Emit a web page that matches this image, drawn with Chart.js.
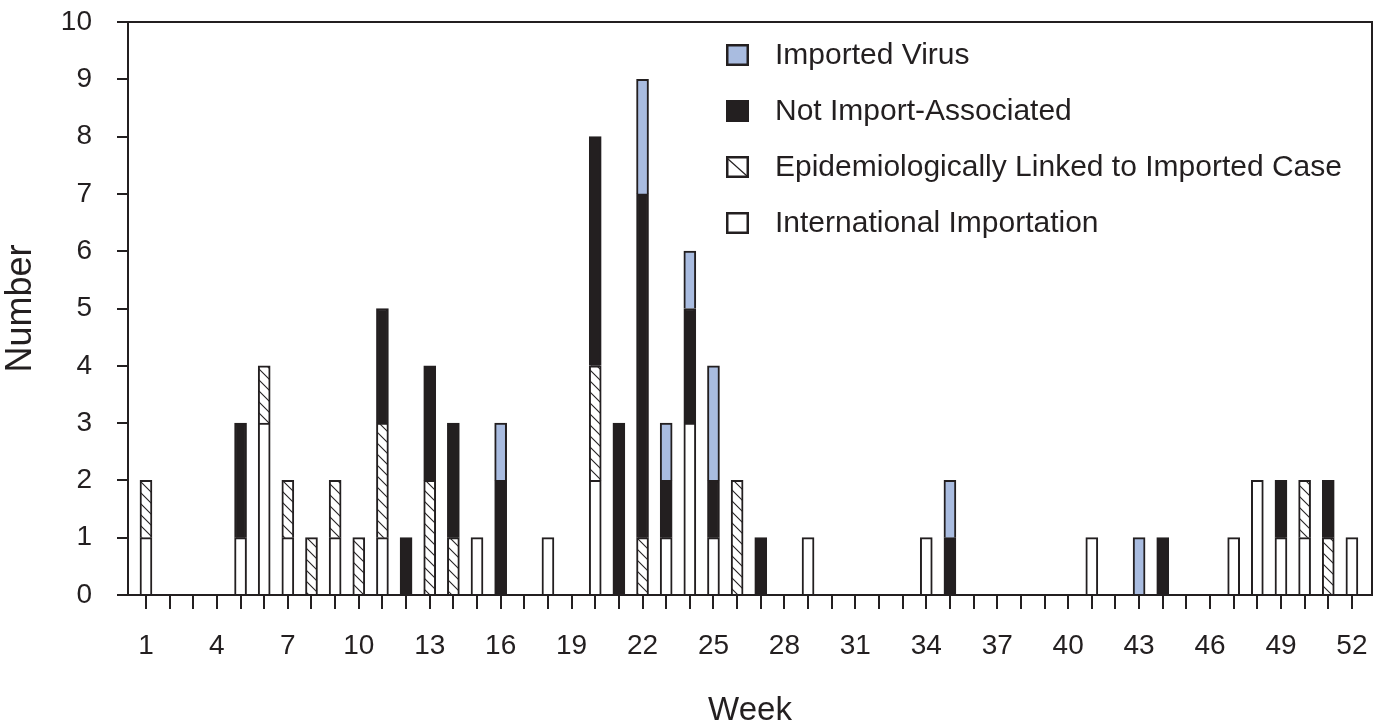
<!DOCTYPE html>
<html>
<head>
<meta charset="utf-8">
<script src="https://cdn.jsdelivr.net/npm/chart.js@4.4.1/dist/chart.umd.min.js"></script>
<style>
	body { margin: 0; background: #fff; }
	#wrap { position: relative; width: 1385px; height: 727px; }
	#legend { position: absolute; left: 726px; top: 0; font-family: "Liberation Sans", Arial, sans-serif; font-size: 30px; color: #231f20; }
	.item { position: absolute; left: 0; white-space: nowrap; height: 30px; line-height: 30px; }
	.item svg { position: absolute; left: 0; top: 5px; }
	.item span { position: absolute; left: 49px; top: 0; }
</style>
</head>
<body>
<div id="wrap">
	<canvas id="chart" width="1385" height="727"></canvas>
	<div id="legend">
		<div class="item" style="top:39px"><svg width="23" height="22"><rect x="1.25" y="1.25" width="20.5" height="19.5" fill="#a9bce0" stroke="#231f20" stroke-width="2.5"/></svg><span>Imported Virus</span></div>
		<div class="item" style="top:95px"><svg width="23" height="22"><rect x="0" y="0" width="23" height="22" fill="#231f20"/></svg><span>Not Import-Associated</span></div>
		<div class="item" style="top:151px"><svg width="23" height="22"><rect x="1.25" y="1.25" width="20.5" height="19.5" fill="#fff" stroke="#231f20" stroke-width="2.5"/><line x1="2" y1="3" x2="21" y2="20" stroke="#231f20" stroke-width="1.2"/></svg><span>Epidemiologically Linked to Imported Case</span></div>
		<div class="item" style="top:207px"><svg width="23" height="22"><rect x="1.25" y="1.25" width="20.5" height="19.5" fill="#fff" stroke="#231f20" stroke-width="2.5"/></svg><span>International Importation</span></div>
	</div>
</div>
<script>
const weeks = [];
for (var w = 1; w <= 52; w++) weeks.push(w);

// cases per week, weeks 1..52
const international = [1,0,0,0,1,3,1,0,1,0, 1,0,0,0,1,0,0,1,0,2, 0,0,1,3,1,0,0,0,1,0, 0,0,0,1,0,0,0,0,0,0, 1,0,0,0,0,0,1,2,1,1, 0,1];
const epiLinked     = [1,0,0,0,0,1,1,1,1,1, 2,0,2,1,0,0,0,0,0,2, 0,1,0,0,0,2,0,0,0,0, 0,0,0,0,0,0,0,0,0,0, 0,0,0,0,0,0,0,0,0,1, 1,0];
const notImport     = [0,0,0,0,2,0,0,0,0,0, 2,1,2,2,0,2,0,0,0,4, 3,6,1,2,1,0,1,0,0,0, 0,0,0,0,1,0,0,0,0,0, 0,0,0,1,0,0,0,0,1,0, 1,0];
const importedVirus = [0,0,0,0,0,0,0,0,0,0, 0,0,0,0,0,1,0,0,0,0, 0,2,1,1,2,0,0,0,0,0, 0,0,0,0,1,0,0,0,0,0, 0,0,1,0,0,0,0,0,0,0, 0,0];

const yTicks = [0,1,2,3,4,5,6,7,8,9,10];
const labelWeeks = [1,4,7,10,13,16,19,22,25,28,31,34,37,40,43,46,49,52];

const ink = '#231f20';
const font = "'Liberation Sans', Arial, sans-serif";

function hatch() {
	var s = 11;
	var c = document.createElement('canvas');
	c.width = s; c.height = s;
	var ctx = c.getContext('2d');
	ctx.fillStyle = '#fff';
	ctx.fillRect(0, 0, s, s);
	ctx.strokeStyle = ink;
	ctx.lineWidth = 1.1;
	[-s, 0, s].forEach(function (o) {
		ctx.beginPath();
		ctx.moveTo(-1, -1 + o);
		ctx.lineTo(s + 1, s + 1 + o);
		ctx.stroke();
	});
	return ctx.createPattern(c, 'repeat');
}

function series(arr) {
	return weeks.map(function (wk, i) { return { x: wk, y: arr[i] || null }; });
}

function ds(label, arr, bg) {
	return {
		label: label,
		data: series(arr),
		backgroundColor: bg,
		borderColor: ink,
		borderWidth: 2,
		barThickness: 12
	};
}

const frame = {
	id: 'frame',
	afterDraw(chart) {
		var a = chart.chartArea, ctx = chart.ctx;
		ctx.save();
		ctx.strokeStyle = ink;
		ctx.lineWidth = 2;
		ctx.beginPath();
		ctx.moveTo(a.left, a.top);
		ctx.lineTo(a.right, a.top);
		ctx.lineTo(a.right, a.bottom);
		ctx.stroke();
		ctx.restore();
	}
};

const chartElem = document.getElementById('chart');
var chart = new Chart(chartElem, {
	type: 'bar',
	data: {
		datasets: [
			ds('International Importation', international, '#ffffff'),
			ds('Epidemiologically Linked to Imported Case', epiLinked, hatch()),
			ds('Not Import-Associated', notImport, ink),
			ds('Imported Virus', importedVirus, '#a9bce0')
		]
	},
	options: {
		responsive: false,
		devicePixelRatio: 1,
		animation: false,
		layout: { padding: { left: 0, top: 22, right: 13, bottom: 0 } },
		plugins: { legend: { display: false }, tooltip: { enabled: false } },
		scales: {
			x: {
				type: 'linear',
				stacked: true,
				offset: false,
				min: 0.24,
				max: 52.85,
				afterBuildTicks: function (axis) {
					axis.ticks = weeks.map(function (v) { return { value: v }; });
				},
				afterFit: function (s) {
					s.height = 132;
					s.paddingLeft = 0;
					s.paddingRight = 0;
				},
				grid: { offset: false, drawOnChartArea: false, color: ink, lineWidth: 2, tickLength: 14 },
				border: { color: ink, width: 2 },
				ticks: {
					autoSkip: false,
					maxRotation: 0,
					padding: 20,
					color: ink,
					font: { family: font, size: 28 },
					callback: function (v) { return labelWeeks.indexOf(v) >= 0 ? String(v) : ''; }
				},
				title: {
					display: true,
					text: 'Week',
					color: ink,
					font: { family: font, size: 33, lineHeight: 1 },
					padding: { top: 0, bottom: 0 }
				}
			},
			y: {
				stacked: true,
				min: 0,
				max: 10,
				afterBuildTicks: function (axis) {
					axis.ticks = yTicks.map(function (v) { return { value: v }; });
				},
				afterFit: function (s) {
					s.width = 128;
					s.paddingTop = 0;
					s.paddingBottom = 0;
				},
				grid: { drawOnChartArea: false, color: ink, lineWidth: 2, tickLength: 11 },
				border: { color: ink, width: 2 },
				ticks: {
					padding: 25,
					color: ink,
					font: { family: font, size: 28 }
				},
				title: {
					display: true,
					text: 'Number',
					color: ink,
					font: { family: font, size: 36, lineHeight: 1 },
					padding: { top: 3, bottom: 0 }
				}
			}
		}
	},
	plugins: [frame]
});
</script>
</body>
</html>
